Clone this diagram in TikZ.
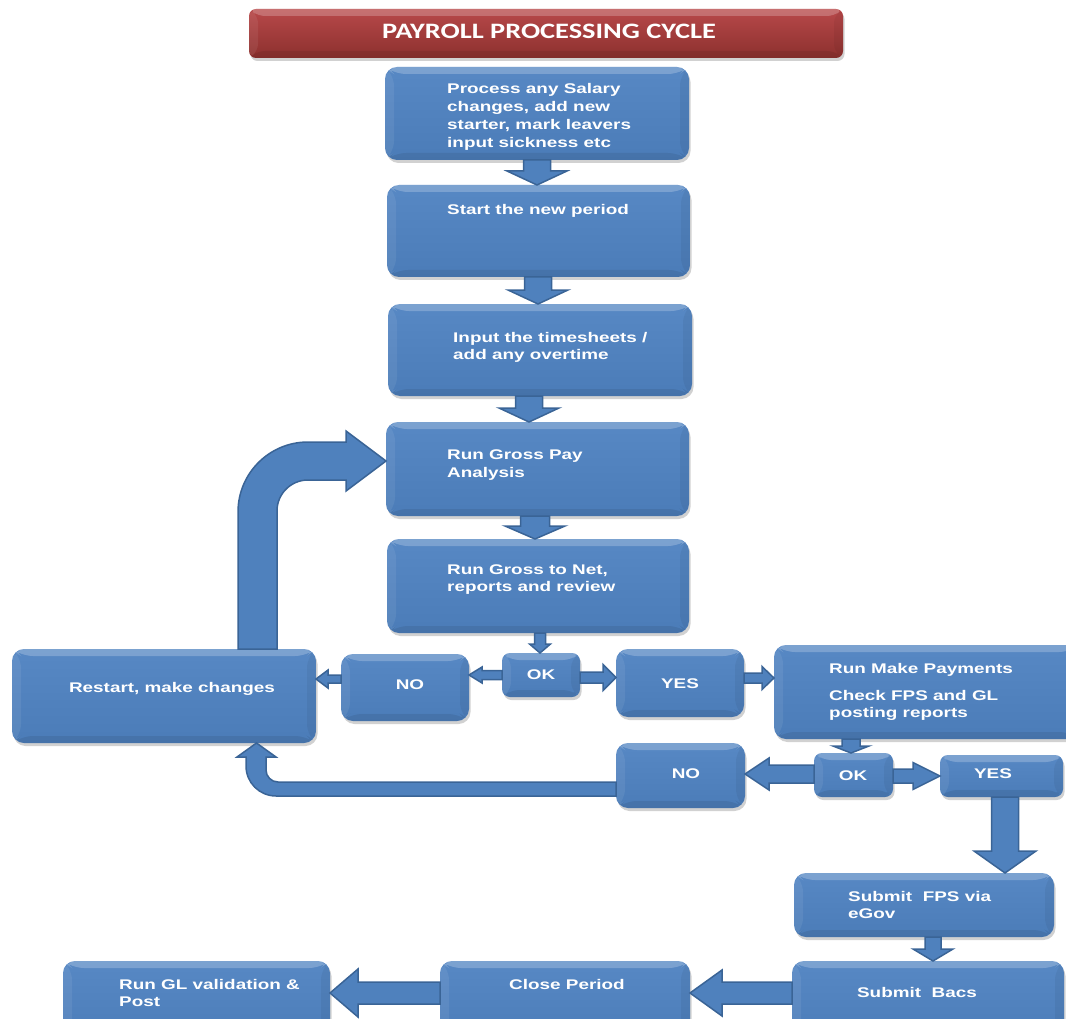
\documentclass[tikz,border=0pt]{standalone}
\usepackage{fontspec}
\newfontfamily\boxfont[FakeStretch=1.35]{Liberation Sans}
\newfontfamily\titlefont[FakeStretch=1.29]{Carlito}
\usetikzlibrary{shadows,calc}
\definecolor{boxblue}{HTML}{4F81BD}
\definecolor{boxtop}{HTML}{5788C4}
\definecolor{boxbot}{HTML}{4B7CB8}
\definecolor{arrowline}{HTML}{3A6496}
\definecolor{titletop}{HTML}{B8494A}
\definecolor{titlebot}{HTML}{8C302E}
\newcommand\bx{\boxfont\bfseries\fontsize{14}{17.7}\selectfont}
\newcommand\arrdown[6]{% x center, start, end(tip), shaft half, head half, head length
  \draw[barrow] let \p1=(#2), \p2=(#3) in
  (#1pt-#4pt,\y1) -- (#1pt-#4pt,\y2+#6pt) -- (#1pt-#5pt,\y2+#6pt) -- (#1pt,\y2)
  -- (#1pt+#5pt,\y2+#6pt) -- (#1pt+#4pt,\y2+#6pt) -- (#1pt+#4pt,\y1) -- cycle;}
\newcommand\arrleft[6]{% y center, start, end(tip), shaft half, head half, head length
  \draw[barrow] let \p1=(#2), \p2=(#3) in
  (\x1,-#1pt+#4pt) -- (\x2+#6pt,-#1pt+#4pt) -- (\x2+#6pt,-#1pt+#5pt) -- (\x2,-#1pt)
  -- (\x2+#6pt,-#1pt-#5pt) -- (\x2+#6pt,-#1pt-#4pt) -- (\x1,-#1pt-#4pt) -- cycle;}
\newcommand\arrright[6]{%
  \draw[barrow] let \p1=(#2), \p2=(#3) in
  (\x1,-#1pt+#4pt) -- (\x2-#6pt,-#1pt+#4pt) -- (\x2-#6pt,-#1pt+#5pt) -- (\x2,-#1pt)
  -- (\x2-#6pt,-#1pt-#5pt) -- (\x2-#6pt,-#1pt-#4pt) -- (\x1,-#1pt-#4pt) -- cycle;}
\tikzset{
  bevel/.style={path picture={
    \fill[white,opacity=0.22] (path picture bounding box.north west) -- (path picture bounding box.north east)
      -- ([shift={(-9pt,-7pt)}]path picture bounding box.north east) -- ([shift={(9pt,-7pt)}]path picture bounding box.north west) -- cycle;
    \fill[white,opacity=0.07] (path picture bounding box.north west) -- ([shift={(9pt,-7pt)}]path picture bounding box.north west)
      -- ([shift={(9pt,7pt)}]path picture bounding box.south west) -- (path picture bounding box.south west) -- cycle;
    \fill[black,opacity=0.05] (path picture bounding box.north east) -- ([shift={(-9pt,-7pt)}]path picture bounding box.north east)
      -- ([shift={(-9pt,7pt)}]path picture bounding box.south east) -- (path picture bounding box.south east) -- cycle;
    \fill[black,opacity=0.08] (path picture bounding box.south west) -- ([shift={(9pt,7pt)}]path picture bounding box.south west)
      -- ([shift={(-9pt,7pt)}]path picture bounding box.south east) -- (path picture bounding box.south east) -- cycle;
  }},
  pbox/.style={rectangle, rounded corners=12pt, inner sep=0pt, outer sep=0pt,
    top color=boxtop, bottom color=boxbot, bevel,
    drop shadow={shadow xshift=1.5pt, shadow yshift=-3pt, opacity=0.3, fill=black!60}},
  sbox/.style={pbox, rounded corners=8pt},
  tbox/.style={rectangle, rounded corners=7pt, inner sep=0pt, outer sep=0pt,
    top color=titletop, bottom color=titlebot, bevel,
    drop shadow={shadow xshift=1.5pt, shadow yshift=-3pt, opacity=0.3, fill=black!60}},
  txt/.style={font=\bx, text=white, inner sep=0pt, align=left},
  ttl/.style={font=\titlefont\bfseries\fontsize{22}{26}\selectfont, text=white, inner sep=0pt},
  barrow/.style={fill=boxblue, draw=arrowline, line width=1.5pt, line join=miter}
}
\begin{document}
\begin{tikzpicture}[x=1pt,y=-1pt]
\useasboundingbox (0,0) rectangle (1066,1019);
\clip (0,0) rectangle (1066,1019);
% boxes
\node[tbox, minimum width=594pt, minimum height=49pt] (title) at (546,33.5) {};
\node[pbox, minimum width=304pt, minimum height=93pt] (b1) at (537,113.5) {};
\node[pbox, minimum width=303pt, minimum height=92pt] (b2) at (538.5,231) {};
\node[pbox, minimum width=304pt, minimum height=92pt] (b3) at (540,350) {};
\node[pbox, minimum width=303pt, minimum height=94pt] (b4) at (537.5,469) {};
\node[pbox, minimum width=302pt, minimum height=94pt] (b5) at (538,586) {};
\node[pbox, minimum width=304pt, minimum height=94pt] (restart) at (164,696) {};
\node[pbox, minimum width=128pt, minimum height=67pt] (no1) at (405,687.5) {};
\node[sbox, minimum width=78pt, minimum height=44pt] (ok1) at (541,675) {};
\node[pbox, minimum width=128pt, minimum height=68pt] (yes1) at (680,683) {};
\node[pbox, minimum width=306pt, minimum height=94pt] (rmp) at (927,692) {};
\node[pbox, minimum width=129pt, minimum height=65pt] (no2) at (680.5,775.5) {};
\node[sbox, minimum width=79pt, minimum height=44pt] (ok2) at (853.5,775) {};
\node[sbox, minimum width=123pt, minimum height=42pt] (yes2) at (1001.5,776) {};
\node[pbox, minimum width=260pt, minimum height=64pt] (fps) at (924,905) {};
\node[pbox, minimum width=272pt, minimum height=84pt] (bacs) at (928,1003) {};
\node[pbox, minimum width=250pt, minimum height=84pt] (close) at (565,1003) {};
\node[pbox, minimum width=267pt, minimum height=84pt] (gl) at (196.5,1003) {};
% texts (multi-line nodes: base = last line)
\node[ttl, anchor=base] (ttitle) at (549,39) {PAYROLL PROCESSING CYCLE};
\node[txt, anchor=base west] (t1) at (447,147.1) {Process any Salary\\changes, add new\\starter, mark leavers\\input sickness etc};
\node[txt, anchor=base west] (t2) at (447,215) {Start the new period};
\node[txt, anchor=base west] (t3) at (453,359.7) {Input the timesheets /\\add any overtime};
\node[txt, anchor=base west] (t4) at (447,477) {Run Gross Pay\\Analysis};
\node[txt, anchor=base west] (t5) at (447,591.7) {Run Gross to Net,\\reports and review};
\node[txt, anchor=base] (tok1) at (541,679) {OK};
\node[txt, anchor=base] (tno1) at (410,689) {NO};
\node[txt, anchor=base] (trs) at (172,692) {Restart, make changes};
\node[txt, anchor=base] (tyes1) at (680,688) {YES};
\node[txt, anchor=base west] (trmp) at (829,717.7) {Run Make Payments\\[9.3pt]Check FPS and GL\\posting reports};
\node[txt, anchor=base] (tok2) at (853,780) {OK};
\node[txt, anchor=base] (tno2) at (686,778) {NO};
\node[txt, anchor=base] (tyes2) at (993,778) {YES};
\node[txt, anchor=base west] (tfps) at (848,918.7) {Submit\ \ FPS via\\eGov};
\node[txt, anchor=base] (tbacs) at (917,997) {Submit\ \ Bacs};
\node[txt, anchor=base] (tclose) at (567,989) {Close Period};
\node[txt, anchor=base west] (tgl) at (119,1006.7) {Run GL validation \&\\Post};
% straight block arrows
\arrdown{537}{b1.south}{b2.north}{13.5}{30}{14}
\arrdown{538}{b2.south}{b3.north}{13.5}{30}{14}
\arrdown{529}{b3.south}{b4.north}{13.5}{30}{14}
\arrdown{535}{b4.south}{b5.north}{14.5}{30}{13}
\arrdown{540}{b5.south}{ok1.north}{5.5}{10.5}{9}
\arrleft{675}{ok1.west}{no1.east}{4.5}{8}{13}
\arrleft{679}{no1.west}{restart.east}{4}{9}{12}
\arrright{677.5}{ok1.east}{yes1.west}{5.5}{13}{13}
\arrright{678}{yes1.east}{rmp.west}{5}{11.5}{12}
\arrdown{851}{rmp.south}{ok2.north}{9}{18}{7}
\arrleft{774}{ok2.west}{no2.east}{9}{16}{24}
\arrright{776}{ok2.east}{yes2.west}{7}{13.5}{27}
\arrdown{1005}{yes2.south}{fps.north}{13.5}{31}{22}
\arrdown{933}{fps.south}{bacs.north}{8}{20}{12}
\arrleft{993}{bacs.west}{close.east}{11}{23}{32}
\arrleft{993}{close.west}{gl.east}{11}{24}{28}
% loop arrows
\coordinate (l1s) at (238,649);
\coordinate (l1t) at (386,461);
\draw[barrow] (l1s) -- (238,512) .. controls (238,473.3) and (269.3,442) .. (308,442)
  -- (346,442) -- (346,431) -- (l1t) -- (346,491) -- (346,480) -- (308,480)
  .. controls (290.9,480) and (277,493.9) .. (277,511) -- (277,649) -- cycle;
\coordinate (l2s) at (616,782);
\coordinate (l2t) at (256.5,743);
\draw[barrow] (l2s) -- (278,782) .. controls (271.4,782) and (266,776.6) .. (266,770)
  -- (266,757) -- (276,757) -- (l2t) -- (237,757) -- (246,757) -- (246,766)
  .. controls (246,782.6) and (259.4,796) .. (276,796) -- (616,796) -- cycle;
\end{tikzpicture}
\end{document}
